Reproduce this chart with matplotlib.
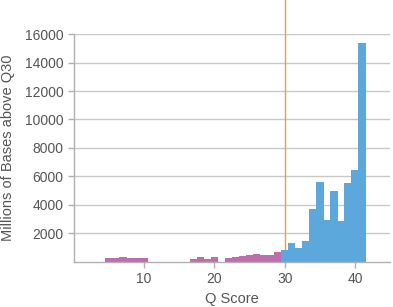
import numpy as np
import matplotlib
matplotlib.use('Agg')
import matplotlib.pyplot as plt

# Q scores below / above Q30 and millions of bases
q_low = [5, 6, 7, 8, 9, 10, 17, 18, 19, 20, 22, 23, 24, 25, 26, 27, 28, 29]
bases_low = [260, 260, 340, 290, 270, 260, 200, 340, 220, 320,
             290, 330, 380, 450, 570, 480, 460, 710]
q_high = [30, 31, 32, 33, 34, 35, 36, 37, 38, 39, 40, 41]
bases_high = [840, 1330, 1000, 1480, 3700, 5600, 2930, 4950, 2880, 5530, 6420, 15400]

y_ticks = [2000, 4000, 6000, 8000, 10000, 12000, 14000, 16000]
x_ticks = [10, 20, 30, 40]

plt.rcParams['font.family'] = ['Liberation Sans', 'DejaVu Sans']

fig = plt.figure(figsize=(3.93, 3.07), dpi=100)
ax = fig.add_axes([0.188, 0.147, 0.805, 0.742])

text_color = '#555555'
grid_color = '#c8c8c8'

ax.axvline(30, ymin=0, ymax=1.16, color='#f0a030', lw=1.0, clip_on=False, zorder=1)
ax.bar(q_low, bases_low, width=1.04, color='#c06db0', zorder=2)
ax.bar(q_high, bases_high, width=1.04, color='#5ca8dc', zorder=2)

ax.set_xlim(0, 45)
ax.set_ylim(0, 16000)
ax.set_xticks(x_ticks)
ax.set_yticks(y_ticks)
ax.yaxis.grid(True, color=grid_color, lw=1.0, zorder=0)
ax.set_axisbelow(True)

for s in ['top', 'right']:
    ax.spines[s].set_visible(False)
for s in ['left', 'bottom']:
    ax.spines[s].set_color('#b0b0b0')
    ax.spines[s].set_linewidth(1.0)

ax.tick_params(axis='both', colors='#b0b0b0', labelcolor=text_color,
               labelsize=10, length=4, width=1.0)
ax.set_xlabel('Q Score', color=text_color, fontsize=10.5, labelpad=4)
ax.set_ylabel('Millions of Bases above Q30', color=text_color, fontsize=10.5, labelpad=7)

fig.savefig('out.png', dpi=100)
